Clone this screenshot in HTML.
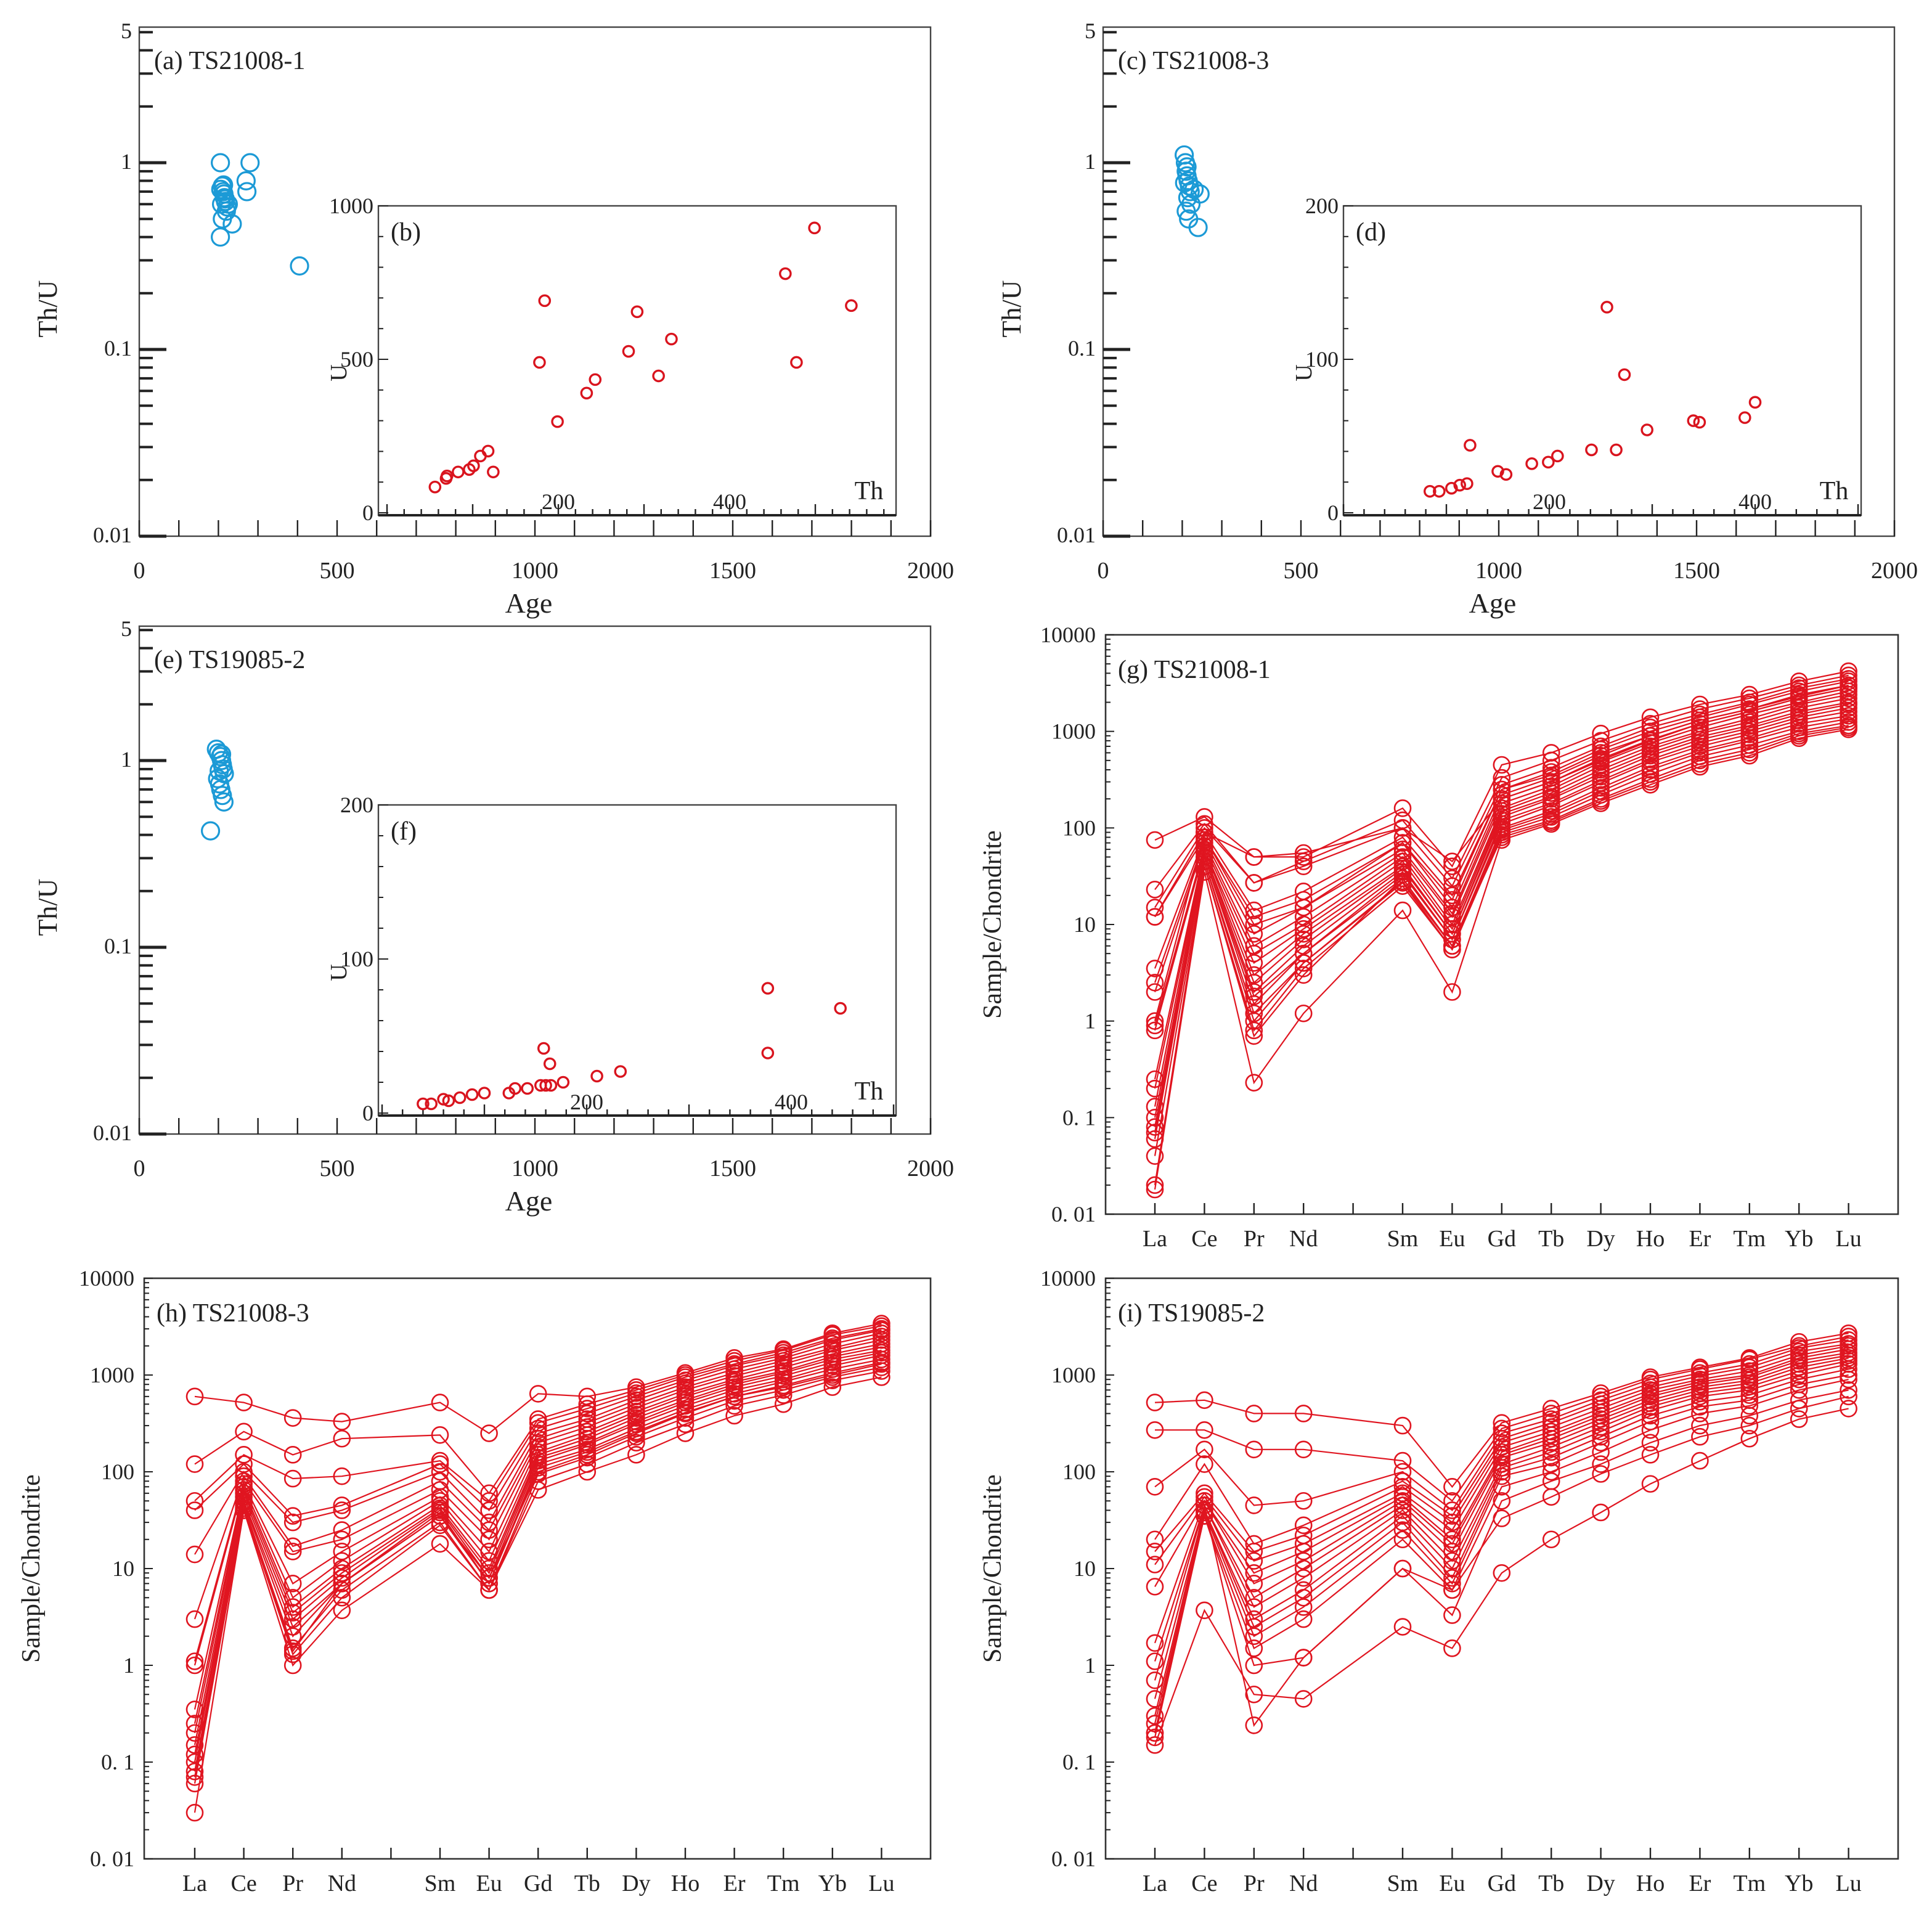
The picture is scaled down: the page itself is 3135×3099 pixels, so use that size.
<!DOCTYPE html>
<html><head><meta charset="utf-8"><style>
html,body{margin:0;padding:0;background:#fff}
svg{display:block}
text{font-family:"Liberation Serif",serif;fill:#222}
</style></head><body>
<svg id="fig" xmlns="http://www.w3.org/2000/svg" width="3135" height="3099" viewBox="0 0 1567.5 1549.5">
<rect x="0" y="0" width="1567.5" height="1549.5" fill="#fff"/>
<g id="root"></g>
</svg>
<script>
// ---------- data ----------
const elements = ["La","Ce","Pr","Nd","Sm","Eu","Gd","Tb","Dy","Ho","Er","Tm","Yb","Lu"];
const elemIndex = [0,1,2,3,5,6,7,8,9,10,11,12,13,14];

const ageA = [205,210,212,215,208,218,220,206,214,222,225,210,280,270,272,235,205,405,213,217];
const thuA = [1.0,0.75,0.7,0.65,0.6,0.62,0.55,0.72,0.68,0.58,0.6,0.5,1.0,0.8,0.7,0.47,0.4,0.28,0.76,0.64];
const ageC = [205,208,210,212,215,218,220,206,214,222,210,216,245,240,212,230];
const thuC = [1.1,1.0,0.9,0.85,0.8,0.75,0.7,0.78,0.65,0.6,0.55,0.5,0.68,0.45,0.95,0.72];
const ageE = [195,200,205,208,210,212,215,198,203,206,210,214,180,208,202];
const thuE = [1.15,1.1,1.05,1.0,0.95,0.9,0.85,0.8,0.75,0.7,0.65,0.6,0.42,1.08,0.88];

const thB = [56,69,70,83,96,101,109,118,124,178,184,199,233,243,282,292,317,332,465,478,499,542];
const uB  = [84,112,120,133,141,153,185,201,133,490,691,297,390,434,526,655,446,566,779,490,928,675];
const thD = [84,93,105,113,120,123,150,158,183,199,208,241,256,265,273,295,340,346,390,400];
const uD  = [14,14,16,18,19,44,27,25,32,33,37,41,134,41,90,54,60,59,62,72];
const thF = [40,48,60,65,76,88,100,124,130,142,155,160,165,158,164,177,210,233,377,377,448];
const uF  = [6,6,9,8,10,12,13,13,16,16,18,18,18,42,32,20,24,27,81,39,68];

const reeG = [
[75,130,50,50,160,40,450,600,950,1400,1900,2400,3300,4200],
[23,110,27,45,120,30,330,500,800,1200,1700,2200,3000,3800],
[15,100,27,40,100,25,280,420,700,1100,1500,2000,2800,3500],
[12,90,14,22,80,20,250,380,650,1000,1400,1900,2600,3300],
[3.5,80,12,18,70,15,220,330,560,900,1300,1700,2400,3000],
[2.5,75,8,15,60,13,200,300,520,820,1200,1600,2200,2800],
[2,70,6,12,55,12,180,270,480,760,1100,1500,2000,2600],
[0.9,65,5,10,50,10,160,250,440,700,1000,1350,1900,2400],
[0.8,60,4,9,45,9,150,230,400,650,950,1250,1750,2200],
[0.25,60,3,8,40,8,140,210,370,600,880,1150,1600,2000],
[0.2,55,2.5,7,38,8,130,200,340,560,820,1080,1500,1900],
[0.13,55,2,6,35,7,120,180,310,510,760,1000,1400,1750],
[0.1,50,1.8,5,33,7,110,170,290,480,700,930,1300,1600],
[0.08,50,1.5,5,30,6,100,150,260,430,640,850,1200,1450],
[0.07,45,1.2,4,28,6,95,140,240,400,600,800,1100,1350],
[0.06,45,1,4,27,5.5,90,130,220,360,550,720,1000,1250],
[0.04,40,0.8,3.5,25,5.5,85,120,200,320,500,650,950,1150],
[0.02,40,0.7,3,30,6,80,115,190,300,460,600,900,1100],
[0.018,35,0.23,1.2,14,2,75,110,180,280,430,560,850,1050],
[1,90,50,55,100,45,200,300,500,800,1200,1600,2200,2800],
[12,80,10,15,70,18,250,350,600,900,1300,1700,2300,3000]
];
const reeH = [
[600,520,360,330,520,250,640,600,750,1050,1500,1850,2700,3400],
[120,260,150,220,240,60,350,500,700,1000,1400,1800,2600,3200],
[50,150,85,90,130,50,320,450,650,950,1300,1700,2400,3000],
[40,120,35,45,120,40,280,400,600,880,1250,1600,2300,2900],
[14,100,30,40,100,30,250,350,550,820,1150,1500,2100,2700],
[3,90,17,25,80,25,220,320,500,750,1050,1400,1900,2500],
[1.1,80,15,20,65,20,200,290,460,700,980,1300,1800,2300],
[1,75,7,15,55,15,180,260,420,640,900,1200,1650,2100],
[0.35,70,5,12,50,12,160,240,390,600,850,1100,1550,1950],
[0.25,65,4,10,45,10,150,220,360,550,800,1050,1450,1800],
[0.2,60,3.5,9,42,9,140,200,330,520,750,980,1350,1700],
[0.15,55,3,8,40,8,130,190,310,480,700,900,1250,1600],
[0.12,50,2.5,7,38,7,120,170,280,440,640,850,1150,1450],
[0.1,48,2,7,35,7,110,160,260,410,600,780,1050,1350],
[0.08,45,1.5,6,30,6,95,140,230,360,540,700,950,1200],
[0.07,42,1.3,5,28,6,80,120,200,310,480,620,880,1100],
[0.06,40,1,3.7,18,6,65,100,150,250,380,500,750,950],
[0.03,40,1.4,7,35,8,100,150,250,400,600,750,1000,1300]
];
const reeI = [
[520,550,400,400,300,70,320,450,650,950,1200,1500,2200,2700],
[270,270,170,170,130,50,280,400,600,900,1150,1450,2000,2500],
[70,170,45,50,100,40,250,350,550,820,1050,1300,1900,2300],
[20,120,18,28,80,35,220,320,500,750,980,1200,1750,2100],
[15,60,15,22,70,30,200,290,450,700,900,1100,1600,2000],
[11,55,12,18,60,25,180,260,410,640,850,1000,1500,1850],
[6.5,50,9,15,55,20,160,240,380,600,800,950,1400,1700],
[1.7,50,7,12,50,18,150,220,350,550,750,880,1300,1600],
[1.1,45,5,10,45,15,140,200,320,510,700,820,1200,1500],
[0.7,45,4,8,40,12,120,180,290,470,650,760,1100,1400],
[0.45,40,3,6,35,10,110,160,260,430,600,700,1000,1300],
[0.3,40,2.5,5,30,8,100,140,230,380,530,620,900,1150],
[0.25,38,2,4,25,7,90,120,200,330,470,550,800,1000],
[0.2,35,1.5,3,20,6,70,100,160,270,400,480,700,900],
[0.18,35,1,1.2,10,3.3,50,80,120,200,300,380,550,700],
[0.15,3.7,0.5,0.45,2.5,1.5,9,20,38,75,130,220,350,450],
[0.2,45,0.24,1.2,10,6,33,55,95,150,230,300,450,600]
];
const ageTicks = [0,500,1000,1500,2000];
const reeTickLabels = ["10000","1000","100","10","1","0. 1","0. 01"];

// ---------- helpers ----------
const NS = "http://www.w3.org/2000/svg";
const root = document.getElementById("root");
function mk(tag, attrs, parent){
  const e = document.createElementNS(NS, tag);
  for (const k in attrs) e.setAttribute(k, attrs[k]);
  (parent||root).appendChild(e);
  return e;
}
function txt(s, x, y, size, anchor, parent, rot){
  const t = mk("text", {x:x, y:y, "font-size":size, "text-anchor":anchor||"start"}, parent);
  if (rot) t.setAttribute("transform", "rotate(-90 "+x+" "+y+")");
  t.textContent = s;
  return t;
}
function logY(v, bottom, dec, lmin){ return bottom - (Math.log10(v) - lmin) * dec; }

// ---------- Th/U vs Age panels ----------
function ageChart(id, L, T, R, B, ages, thus, title, name){
  const g = mk("g", {});
  
  
  const dec = (B - 132 + T - 22) ; // placeholder
  const decPx = 151.5;
  const y = v => logY(v, B, decPx, -2);
  const x = a => L + a / 2000 * (R - L);
  const frame = mk("rect", {x:L, y:T, width:R-L, height:B-T, fill:"none", stroke:"#444", "stroke-width":1.2}, g);
  
  
  // x ticks
  for (let a = 0; a <= 2000; a += 100) {
    mk("line", {x1:x(a), x2:x(a), y1:B, y2:B-13, stroke:"#222", "stroke-width":1.2}, g);
  }
  ageTicks.forEach(a => {
    const t = txt(String(a), x(a), B+34, 19, "middle", g);
    
    
  });
  // y ticks
  [0.01,0.1,1].forEach(m => {
    for (let k = 1; k <= 9; k++) {
      const v = m * k;
      if (v > 5) break;
      const len = k === 1 ? 22 : 11;
      mk("line", {x1:L, x2:L+len, y1:y(v), y2:y(v), stroke:"#222", "stroke-width":k===1?2.5:2}, g);
    }
  });
  [["5",5],["1",1],["0.1",0.1],["0.01",0.01]].forEach(p => {
    const t = txt(p[0], L-6, y(p[1])+5, 18, "end", g);
    
    
  });
  const yl = txt("Th/U", L-67, (T+B)/2+22, 22, "middle", g, true);
  
  
  const xl = txt("Age", (L+R)/2 - 5, B+62, 23, "middle", g);
  
  
  const tt = txt(title, L+12, T+34, 21, "start", g);
  
  
  ages.forEach((a, i) => {
    const c = mk("circle", {cx:x(a), cy:y(thus[i]), r:7, fill:"none", stroke:"#1c9ad6", "stroke-width":1.6}, g);
    
    
  });
  return g;
}

function insetChart(L, T, R, B, x0, pxPerTh, uMax, uStep, ths, us, title, name, thLabelX){
  const g = mk("g", {});
  
  
  mk("rect", {x:L, y:T, width:R-L, height:B-T, fill:"#fff", stroke:"#444", "stroke-width":1.2}, g);
  const x = t => x0 + t * pxPerTh;
  const y = u => B - 2 - u / uMax * (B - 2 - T);
  // bottom axis line
  mk("line", {x1:L, x2:R, y1:B, y2:B, stroke:"#222", "stroke-width":2}, g);
  for (let t = 0; x(t) <= R; t += 20) {
    mk("line", {x1:x(t), x2:x(t), y1:B, y2:B-(t%100===0?9:5), stroke:"#222", "stroke-width":1.2}, g);
  }
  [200,400].forEach(t => {
    const lb = txt(String(t), x(t), B-5, 18, "middle", g);
    
    
  });
  // left ticks
  for (let u = 0; u <= uMax; u += uStep/5) {
    mk("line", {x1:L, x2:L+(Math.abs(u % uStep) < 1e-6 ? 8 : 4), y1:y(u), y2:y(u), stroke:"#222", "stroke-width":1}, g);
  }
  [0, uStep, uMax].forEach(u => {
    const lb = txt(String(u), L-4, y(u)+6, 18, "end", g);
    
    
  });
  const ul = txt("U", L-26, (T+B)/2+10, 19, "middle", g, true);
  
  
  const tl = txt("Th", R-22, B-13, 21, "middle", g);
  
  
  const tt = txt(title, L+10, T+28, 21, "start", g);
  
  
  ths.forEach((t, i) => {
    const c = mk("circle", {cx:x(t), cy:y(us[i]), r:4.3, fill:"none", stroke:"#d9141e", "stroke-width":1.7}, g);
    
    
  });
}

// ---------- REE panels ----------
function reeChart(L, T, R, B, x0, step, series, title, name){
  const g = mk("g", {});
  
  
  const decPx = (B - T) / 6;
  const y = v => logY(v, B, decPx, -2);
  const x = i => x0 + i * step;
  const fr = mk("rect", {x:L, y:T, width:R-L, height:B-T, fill:"none", stroke:"#333", "stroke-width":1.3}, g);
  
  
  for (let i = 0; i <= 14; i++) mk("line", {x1:x(i), x2:x(i), y1:B, y2:B-9, stroke:"#222", "stroke-width":1.2}, g);
  for (let e = -2; e <= 4; e++) {
    for (let k = 1; k <= 9; k++) {
      const v = Math.pow(10, e) * k;
      if (v > 10000) break;
      mk("line", {x1:L, x2:L+(k===1?7:4), y1:y(v), y2:y(v), stroke:"#222", "stroke-width":1}, g);
    }
  }
  reeTickLabels.forEach((s, i) => {
    const lb = txt(s, L-8, y(Math.pow(10, 4-i))+6, 18, "end", g);
    
    
  });
  elements.forEach((el, i) => {
    const lb = txt(el, x(elemIndex[i]), B+26, 19, "middle", g);
    
    
  });
  const yl = txt("Sample/Chondrite", L-85, (T+B)/2, 21, "middle", g, true);
  
  
  const tt = txt(title, L+10, T+35, 21, "start", g);
  
  
  series.forEach(s => {
    const pts = s.map((v, i) => x(elemIndex[i]).toFixed(1) + "," + y(v).toFixed(1)).join(" ");
    const pl = mk("polyline", {points:pts, fill:"none", stroke:"#e01520", "stroke-width":1.1}, g);
    
    
    s.forEach((v, i) => {
      const c = mk("circle", {cx:x(elemIndex[i]), cy:y(v), r:6.5, fill:"none", stroke:"#e01520", "stroke-width":1.3}, g);
      
      
    });
  });
}

ageChart("a", 113, 22, 755, 435, ageA, thuA, "(a) TS21008-1", "panel-a-thu-age");
insetChart(307, 167, 727, 418, 314, 0.695, 1000, 500, thB, uB, "(b)", "inset-b-th-u");
ageChart("c", 895, 22, 1537, 435, ageC, thuC, "(c)  TS21008-3", "panel-c-thu-age");
insetChart(1090, 167, 1510, 418, 1090, 0.835, 200, 100, thD, uD, "(d)", "inset-d-th-u");
ageChart("e", 113, 508, 755, 920, ageE, thuE, "(e) TS19085-2", "panel-e-thu-age");
insetChart(307, 653, 727, 905, 310, 0.83, 200, 100, thF, uF, "(f)", "inset-f-th-u");
reeChart(897, 515, 1540, 985, 937, 40.2, reeG, "(g) TS21008-1", "panel-g-ree");
reeChart(117, 1037, 755, 1508, 158, 39.8, reeH, "(h) TS21008-3", "panel-h-ree");
reeChart(897, 1037, 1540, 1508, 937, 40.2, reeI, "(i) TS19085-2", "panel-i-ree");
</script>
</body></html>
